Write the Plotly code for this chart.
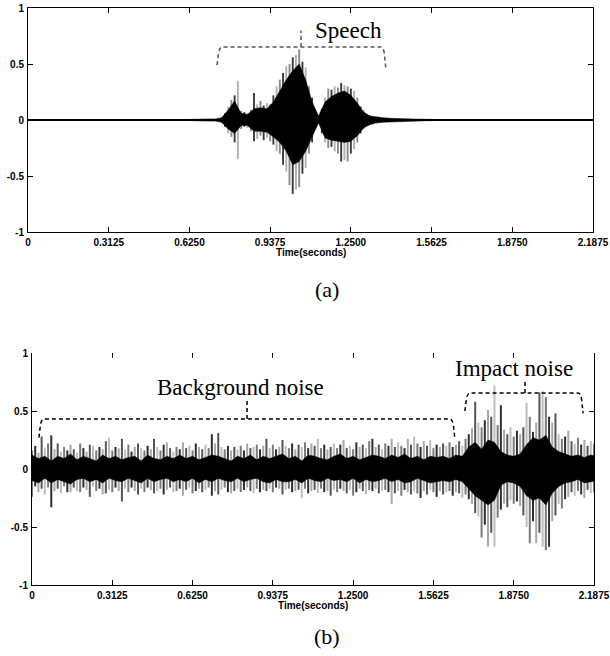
import plotly.graph_objects as go

# ---------------- data ----------------
X_TICKS = [0, 0.3125, 0.625, 0.9375, 1.25, 1.5625, 1.875, 2.1875]
X_TICK_TEXT = ["0", "0.3125", "0.6250", "0.9375", "1.2500", "1.5625", "1.8750", "2.1875"]
Y_TICKS = [-1, -0.5, 0, 0.5, 1]
Y_TICK_TEXT = ["-1", "-0.5", "0", "0.5", "1"]

# (a) speech: dense core envelope, sampled every 0.025 s from 0.625 s
speech_core_start = 0.625
speech_core_step = 0.025
speech_core_hi = [0.005, 0.008, 0.008, 0.01, 0.01, 0.02, 0.09, 0.17, 0.06, 0.05,
                  0.10, 0.11, 0.10, 0.16, 0.26, 0.36, 0.44, 0.50, 0.36, 0.16,
                  0.035, 0.16, 0.21, 0.24, 0.26, 0.22, 0.15, 0.07, 0.035, 0.025,
                  0.02, 0.015, 0.012, 0.01, 0.01, 0.008, 0.008, 0.006, 0.004]
speech_core_lo = [-0.005, -0.008, -0.008, -0.01, -0.01, -0.02, -0.08, -0.12, -0.05, -0.05,
                  -0.10, -0.10, -0.11, -0.15, -0.20, -0.28, -0.40, -0.37, -0.28, -0.15,
                  -0.025, -0.16, -0.18, -0.19, -0.20, -0.19, -0.14, -0.07, -0.04, -0.025,
                  -0.02, -0.015, -0.012, -0.01, -0.01, -0.008, -0.008, -0.006, -0.004]
# (a) speech: peak excursions, sampled every 0.0125 s from 0.75 s
speech_peak_start = 0.75
speech_peak_step = 0.0125
speech_peak_hi = [0.03, 0.06, 0.12, 0.18, 0.22, 0.35, 0.08, 0.07, 0.06, 0.09,
                  0.24, 0.14, 0.17, 0.13, 0.15, 0.14, 0.22, 0.30, 0.36, 0.42,
                  0.48, 0.50, 0.56, 0.58, 0.63, 0.52, 0.47, 0.30, 0.20, 0.08,
                  0.04, 0.10, 0.20, 0.28, 0.27, 0.30, 0.29, 0.33, 0.31, 0.30,
                  0.28, 0.26, 0.20, 0.12, 0.09, 0.05, 0.04, 0.03, 0.03, 0.025,
                  0.02, 0.02, 0.015]
speech_peak_lo = [-0.03, -0.06, -0.12, -0.15, -0.20, -0.35, -0.08, -0.06, -0.07, -0.10,
                  -0.19, -0.17, -0.14, -0.18, -0.16, -0.19, -0.22, -0.28, -0.30, -0.40,
                  -0.46, -0.58, -0.66, -0.62, -0.60, -0.48, -0.43, -0.30, -0.20, -0.06,
                  -0.03, -0.12, -0.20, -0.25, -0.24, -0.28, -0.30, -0.37, -0.36, -0.37,
                  -0.30, -0.26, -0.20, -0.12, -0.08, -0.05, -0.04, -0.03, -0.03, -0.025,
                  -0.02, -0.02, -0.015]

# (b) noisy signal: dense core envelope, every 0.025 s from 0 s
noise_core_step = 0.025
noise_core_hi = [0.12, 0.09, 0.11, 0.07, 0.11, 0.09, 0.13, 0.08,
                 0.11, 0.09, 0.07, 0.12, 0.09, 0.11, 0.08, 0.10,
                 0.11, 0.07, 0.12, 0.09, 0.08, 0.11, 0.09, 0.12,
                 0.09, 0.11, 0.08, 0.10, 0.12, 0.11, 0.09, 0.07,
                 0.11, 0.09, 0.12, 0.08, 0.11, 0.09, 0.11, 0.13,
                 0.09, 0.11, 0.07, 0.12, 0.11, 0.09, 0.08, 0.11,
                 0.13, 0.09, 0.11, 0.08, 0.10, 0.12, 0.11, 0.09,
                 0.12, 0.10, 0.13, 0.09, 0.11, 0.08, 0.11, 0.10,
                 0.11, 0.09, 0.12, 0.11, 0.19, 0.23, 0.17, 0.25,
                 0.23, 0.15, 0.12, 0.11, 0.13, 0.21, 0.27, 0.25,
                 0.29, 0.19, 0.15, 0.13, 0.11, 0.12, 0.10, 0.12, 0.11]
noise_core_lo = [-0.10, -0.12, -0.08, -0.12, -0.09, -0.11, -0.13, -0.09,
                 -0.08, -0.11, -0.09, -0.12, -0.08, -0.10, -0.11, -0.08,
                 -0.10, -0.12, -0.08, -0.11, -0.09, -0.08, -0.11, -0.09,
                 -0.11, -0.08, -0.12, -0.09, -0.11, -0.08, -0.10, -0.11,
                 -0.08, -0.11, -0.09, -0.08, -0.11, -0.12, -0.09, -0.11,
                 -0.11, -0.09, -0.12, -0.08, -0.10, -0.11, -0.08, -0.10,
                 -0.09, -0.11, -0.08, -0.12, -0.09, -0.11, -0.10, -0.08,
                 -0.11, -0.09, -0.12, -0.11, -0.08, -0.10, -0.12, -0.11,
                 -0.10, -0.11, -0.09, -0.11, -0.17, -0.23, -0.27, -0.31,
                 -0.27, -0.14, -0.11, -0.12, -0.15, -0.23, -0.27, -0.25,
                 -0.31, -0.21, -0.15, -0.12, -0.11, -0.09, -0.12, -0.11, -0.10]
# (b) peak excursions, every 0.0125 s from 0 s
noise_peak_step = 0.0125
noise_peak_hi = [0.16, 0.20, 0.14, 0.28, 0.18, 0.22, 0.29, 0.17,
                 0.22, 0.15, 0.19, 0.16, 0.21, 0.17, 0.14, 0.22,
                 0.18, 0.15, 0.21, 0.20, 0.16, 0.19, 0.17, 0.24,
                 0.27, 0.16, 0.19, 0.18, 0.26, 0.17, 0.21, 0.15,
                 0.19, 0.22, 0.18, 0.16, 0.20, 0.17, 0.26, 0.19,
                 0.16, 0.21, 0.23, 0.18, 0.15, 0.19, 0.17, 0.23,
                 0.18, 0.20, 0.16, 0.22, 0.19, 0.17, 0.21, 0.18,
                 0.30, 0.22, 0.31, 0.19, 0.17, 0.20, 0.16, 0.19,
                 0.17, 0.20, 0.16, 0.22, 0.18, 0.19, 0.21, 0.17,
                 0.20, 0.26, 0.18, 0.21, 0.17, 0.19, 0.25, 0.20,
                 0.18, 0.22, 0.17, 0.21, 0.19, 0.23, 0.18, 0.22,
                 0.20, 0.26, 0.18, 0.21, 0.17, 0.19, 0.22, 0.18,
                 0.21, 0.25, 0.18, 0.20, 0.17, 0.23, 0.19, 0.21,
                 0.18, 0.24, 0.26, 0.19, 0.21, 0.17, 0.22, 0.20,
                 0.26, 0.19, 0.23, 0.20, 0.18, 0.26, 0.21, 0.28,
                 0.22, 0.19, 0.24, 0.20, 0.25, 0.18, 0.21, 0.19,
                 0.22, 0.20, 0.23, 0.19, 0.21, 0.24, 0.20, 0.26,
                 0.30, 0.35, 0.58, 0.40, 0.36, 0.42, 0.51, 0.45,
                 0.72, 0.38, 0.55, 0.34, 0.30, 0.36, 0.28, 0.33,
                 0.30, 0.36, 0.57, 0.45, 0.32, 0.40, 0.66, 0.67,
                 0.62, 0.45, 0.40, 0.48, 0.30, 0.26, 0.28, 0.33,
                 0.24, 0.22, 0.27, 0.21, 0.25, 0.20, 0.24, 0.22]
noise_peak_lo = [-0.24, -0.15, -0.20, -0.17, -0.22, -0.16, -0.33, -0.19,
                 -0.17, -0.21, -0.15, -0.20, -0.20, -0.16, -0.19, -0.20,
                 -0.16, -0.18, -0.24, -0.15, -0.19, -0.17, -0.22, -0.21,
                 -0.18, -0.20, -0.16, -0.19, -0.28, -0.17, -0.20, -0.16,
                 -0.19, -0.22, -0.17, -0.20, -0.16, -0.18, -0.21, -0.19,
                 -0.17, -0.22, -0.18, -0.16, -0.20, -0.19, -0.17, -0.23,
                 -0.18, -0.16, -0.21, -0.19, -0.17, -0.20, -0.18, -0.16,
                 -0.23, -0.19, -0.22, -0.18, -0.16, -0.20, -0.21, -0.19,
                 -0.17, -0.20, -0.18, -0.16, -0.19, -0.21, -0.17, -0.20,
                 -0.18, -0.19, -0.17, -0.20, -0.16, -0.17, -0.22, -0.18,
                 -0.17, -0.20, -0.19, -0.18, -0.25, -0.17, -0.21, -0.19,
                 -0.18, -0.21, -0.17, -0.20, -0.19, -0.23, -0.18, -0.20,
                 -0.17, -0.19, -0.21, -0.18, -0.23, -0.20, -0.17, -0.19,
                 -0.22, -0.18, -0.19, -0.17, -0.21, -0.19, -0.18, -0.20,
                 -0.30, -0.21, -0.19, -0.23, -0.18, -0.20, -0.22, -0.19,
                 -0.21, -0.25, -0.19, -0.22, -0.18, -0.20, -0.24, -0.19,
                 -0.22, -0.20, -0.19, -0.23, -0.20, -0.21, -0.25, -0.22,
                 -0.26, -0.30, -0.38, -0.41, -0.59, -0.48, -0.67, -0.55,
                 -0.67, -0.42, -0.35, -0.30, -0.33, -0.27, -0.30, -0.28,
                 -0.32, -0.40, -0.50, -0.64, -0.45, -0.64, -0.55, -0.67,
                 -0.70, -0.67, -0.45, -0.40, -0.30, -0.34, -0.26, -0.24,
                 -0.20, -0.23, -0.19, -0.22, -0.25, -0.18, -0.21, -0.20]

# annotation labels
LABEL_SPEECH = "Speech"
LABEL_BACKGROUND = "Background noise"
LABEL_IMPACT = "Impact noise"
AXIS_TITLE = "Time(seconds)"

# ---------------- helpers ----------------
def times(start, step, n):
    return [start + i * step for i in range(n)]


def segments(ts, lo, hi):
    xs, ys = [], []
    for t, a, b in zip(ts, lo, hi):
        xs += [t, t, None]
        ys += [a, b, None]
    return xs, ys


def envelope(ts, hi, lo):
    return ts + ts[::-1], hi + lo[::-1]


fig = go.Figure()


def add_wave(ts_peak, pk_hi, pk_lo, ts_core, c_hi, c_lo, xa, ya, shades, width):
    # gray peak strokes first, the dense black core on top of them
    for k, col in enumerate(shades):
        sel = list(range(k, len(ts_peak), len(shades)))
        xs, ys = segments([ts_peak[i] for i in sel], [pk_lo[i] for i in sel],
                          [pk_hi[i] for i in sel])
        fig.add_trace(go.Scatter(x=xs, y=ys, mode="lines", xaxis=xa, yaxis=ya,
                                 line=dict(color=col, width=width),
                                 hoverinfo="skip", showlegend=False))
    ex, ey = envelope(ts_core, c_hi, c_lo)
    fig.add_trace(go.Scatter(x=ex, y=ey, mode="lines", fill="toself",
                             fillcolor="black", xaxis=xa, yaxis=ya,
                             line=dict(color="black", width=0.5),
                             hoverinfo="skip", showlegend=False))


# panel (a)
add_wave(times(speech_peak_start, speech_peak_step, len(speech_peak_hi)),
         speech_peak_hi, speech_peak_lo,
         times(speech_core_start, speech_core_step, len(speech_core_hi)),
         speech_core_hi, speech_core_lo, "x", "y",
         ["#8a8a8a", "#3a3a3a", "#b0b0b0"], 1.9)

# panel (b)
add_wave(times(0, noise_peak_step, len(noise_peak_hi)),
         noise_peak_hi, noise_peak_lo,
         times(0, noise_core_step, len(noise_core_hi)),
         noise_core_hi, noise_core_lo, "x2", "y2",
         ["#7a7a7a", "#2e2e2e", "#a8a8a8", "#555555", "#bdbdbd"], 2.0)

# transparent trace so the top tick axis of panel (b) renders
fig.add_trace(go.Scatter(x=[0], y=[0], xaxis="x3", yaxis="y2", mode="markers",
                         marker=dict(opacity=0), showlegend=False, hoverinfo="skip"))

W, H = 610, 656
A_X = [28 / W, 593 / W]
A_Y = [1 - 232 / H, 1 - 8 / H]
B_X = [32 / W, 594 / W]
B_Y = [1 - 585 / H, 1 - 353 / H]

tickfont = dict(family="Liberation Sans", size=10, color="black", weight="bold")


def xaxis(domain, anchor, mirror, **kw):
    d = dict(domain=domain, anchor=anchor, range=[0, 2.1875], tickmode="array",
             tickvals=X_TICKS, ticktext=X_TICK_TEXT, ticks="inside", ticklen=5,
             tickcolor="black", showline=True, linecolor="black", linewidth=1,
             mirror=mirror, showgrid=False, zeroline=False, tickfont=tickfont,
             ticklabelstandoff=1, fixedrange=True, automargin=False)
    d.update(kw)
    return d


def yaxis(domain, anchor, zeroline):
    return dict(domain=domain, anchor=anchor, range=[-1, 1], tickmode="array",
                tickvals=Y_TICKS, ticktext=Y_TICK_TEXT, ticks="inside", ticklen=5,
                tickcolor="black", showline=True, linecolor="black", linewidth=1,
                mirror="ticks", showgrid=False, zeroline=zeroline,
                zerolinecolor="black", zerolinewidth=1.5, tickfont=tickfont,
                ticklabelstandoff=1, fixedrange=True, automargin=False)


def bracket(x_l, x_r, x_m, y_h, y_l, y_r, y_n, dx, color, xref, yref):
    path = (f"M {x_l},{y_l} L {x_l + dx * 0.3},{y_h - 0.05} Q {x_l + dx * 0.5},{y_h} {x_l + dx},{y_h} "
            f"L {x_r - dx},{y_h} Q {x_r - dx * 0.5},{y_h} {x_r - dx * 0.3},{y_h - 0.05} L {x_r},{y_r}")
    notch = f"M {x_m},{y_h} L {x_m},{y_n}"
    return [dict(type="path", path=p, xref=xref, yref=yref,
                 line=dict(color=color, width=1.5, dash="4px,3px"))
            for p in (path, notch)]


shapes = []
shapes += bracket(0.732, 1.385, 1.057, 0.652, 0.49, 0.47, 0.80, 0.02, "#555555", "x", "y")
shapes += bracket(0.027, 1.646, 0.837, 0.431, 0.27, 0.26, 0.59, 0.02, "black", "x2", "y2")
shapes += bracket(1.685, 2.145, 1.919, 0.655, 0.50, 0.48, 0.76, 0.02, "black", "x2", "y2")

serif = "Liberation Serif"
annotations = [
    dict(text=LABEL_SPEECH, x=1.24, y=0.80, xref="x", yref="y", showarrow=False,
         font=dict(family=serif, size=23, color="black"), yanchor="middle"),
    dict(text=LABEL_BACKGROUND, x=0.81, y=0.70, xref="x2", yref="y2", showarrow=False,
         font=dict(family=serif, size=23, color="black"), yanchor="middle"),
    dict(text=LABEL_IMPACT, x=1.876, y=0.87, xref="x2", yref="y2", showarrow=False,
         font=dict(family=serif, size=23, color="black"), yanchor="middle"),
    dict(text=AXIS_TITLE, x=0.5, y=-0.09, xref="x domain", yref="y domain",
         showarrow=False, font=tickfont, yanchor="middle"),
    dict(text=AXIS_TITLE, x=0.5, y=-0.087, xref="x2 domain", yref="y2 domain",
         showarrow=False, font=tickfont, yanchor="middle"),
    dict(text="(a)", x=327 / W, y=1 - 289 / H, xref="paper", yref="paper",
         showarrow=False, font=dict(family=serif, size=22, color="black"), yanchor="middle"),
    dict(text="(b)", x=327 / W, y=1 - 636 / H, xref="paper", yref="paper",
         showarrow=False, font=dict(family=serif, size=22, color="black"), yanchor="middle"),
]

fig.update_layout(
    width=W, height=H, margin=dict(l=0, r=0, t=0, b=0),
    paper_bgcolor="white", plot_bgcolor="white", showlegend=False,
    xaxis=xaxis(A_X, "y", "ticks"),
    yaxis=yaxis(A_Y, "x", True),
    xaxis2=xaxis(B_X, "y2", False),
    yaxis2=yaxis(B_Y, "x2", False),
    xaxis3=xaxis(B_X, "y2", False, overlaying="x2", side="top", showline=False,
                 showticklabels=False),
    shapes=shapes, annotations=annotations,
)

fig.write_html("out.html", config={"displayModeBar": False},
               post_script="document.body.style.margin='0';document.body.style.overflow='hidden';")
